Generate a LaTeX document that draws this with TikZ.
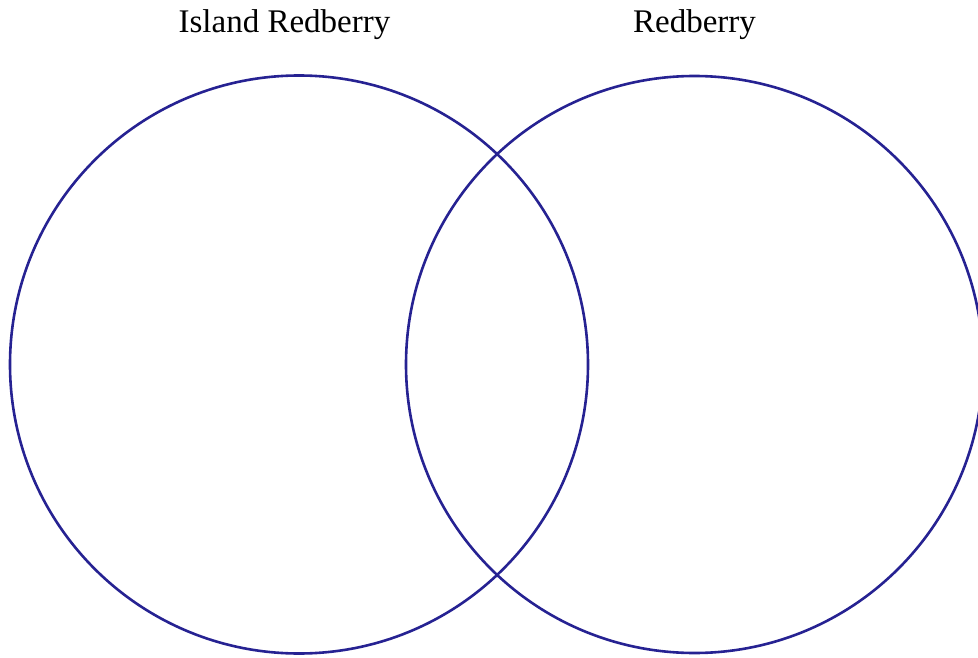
\documentclass[tikz,border=0pt]{standalone}
\usepackage{fontspec}
\setmainfont{Liberation Serif}
\usepackage{tikz}
\usetikzlibrary{positioning}
\definecolor{vennblue}{RGB}{38,34,146}

\begin{document}
\begin{tikzpicture}[x=1pt, y=-1pt,
    venn/.style={draw=vennblue, line width=2.6pt, circle, inner sep=0pt},
    title/.style={anchor=base, font=\fontsize{33}{38}\selectfont}]
    % Frame
    \useasboundingbox (0,0) rectangle (978,658);
    
    % Circles
    \node[venn, minimum size=578pt] (island) at (299,364.5) {};
    \node[venn, minimum size=577pt] (red) at (694.5,364.5) {};
    
    % Labels
    \node[title] (islandlbl) at (284.5,33) {Island Redberry};
    \node[title] (redlbl) at (694.5,33) {Redberry};
\end{tikzpicture}
\end{document}
